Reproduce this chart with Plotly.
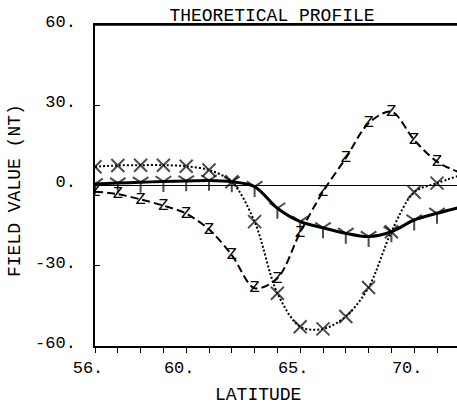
import plotly.graph_objects as go

# ---- data ----
LAT = [56, 57, 58, 59, 60, 61, 62, 63, 64, 65, 66, 67, 68, 69, 70, 71, 71.9]
SOLID_Y = [0.6, 0.9, 1.2, 1.5, 1.7, 1.9, 1.4, -0.4, -8.5, -13.5, -15.8, -17.9, -19.1, -17.3, -12.9, -10.4, -8.4]
DOTTED_X = [7.0, 7.5, 7.6, 7.6, 7.2, 5.8, 1.4, -13.5, -40.3, -52.8, -53.6, -49.0, -38.1, -17.3, -2.5, 0.9, 3.5]
DASHED_Z = [-2.3, -3.2, -5.2, -7.5, -10.5, -16.4, -26.0, -38.4, -34.7, -17.5, -2.3, 10.2, 23.3, 27.6, 17.0, 8.9, 5.2]

X_TICKS = list(range(56, 72))
X_LABELED = {56: "56.", 60: "60.", 65: "65.", 70: "70."}
Y_TICKS = [-60, -30, 0, 30, 60]
Y_LABELS = ["-60.", "-30.", "0.", "30.", "60."]

TITLE = "THEORETICAL PROFILE"
X_TITLE = "LATITUDE"
Y_TITLE = "FIELD VALUE (NT)"

FONT = "Liberation Mono, DejaVu Sans Mono, monospace"
n = len(LAT)
msize = [13] * (n - 1) + [0]

fig = go.Figure()

fig.add_trace(go.Scatter(
    x=LAT, y=DOTTED_X, mode="lines+markers",
    line=dict(color="black", width=2, dash="2px,2px", shape="spline", smoothing=0.9),
    marker=dict(symbol="x-thin-open", size=msize, color="black",
                line=dict(color="black", width=2)),
    showlegend=False, hoverinfo="skip"))

fig.add_trace(go.Scatter(
    x=LAT, y=DASHED_Z, mode="lines+text",
    text=["Z"] * (n - 1) + [""], textposition="middle center",
    textfont=dict(family=FONT, size=17, color="black"),
    line=dict(color="black", width=2, dash="8px,4px", shape="spline", smoothing=0.9),
    showlegend=False, hoverinfo="skip"))

fig.add_trace(go.Scatter(
    x=LAT, y=SOLID_Y, mode="lines+markers",
    line=dict(color="black", width=3, shape="spline", smoothing=0.9),
    marker=dict(symbol="y-down-open", size=msize, color="black",
                line=dict(color="black", width=2)),
    showlegend=False, hoverinfo="skip"))

XR = [56, 56 + 362 / 22.8]
YR = [-60, 60]

fig.update_layout(
    width=457, height=408,
    margin=dict(l=95, r=0, t=25, b=62),
    paper_bgcolor="white", plot_bgcolor="white",
    font=dict(family=FONT, size=17, color="black"),
    title=dict(text=TITLE, x=272 / 457, xanchor="center", xref="container",
               y=1 - 15 / 408, yanchor="middle", yref="container",
               font=dict(family=FONT, size=18, color="black")),
    xaxis=dict(range=XR, tickmode="array", tickvals=X_TICKS,
               ticktext=[X_LABELED.get(v, "") for v in X_TICKS],
               ticks="outside", ticklen=5, tickwidth=1.3, tickcolor="black",
               showline=True, linecolor="black", linewidth=1.5, mirror=True,
               showgrid=False, zeroline=False, ticklabelshift=-7,
               tickfont=dict(family=FONT, size=17)),
    xaxis2=dict(range=XR, overlaying="x", anchor="y", side="bottom",
                tickmode="array", tickvals=X_TICKS, showticklabels=False,
                ticks="inside", ticklen=5, tickwidth=1.3, tickcolor="black",
                showline=False, showgrid=False, zeroline=False),
    yaxis=dict(range=YR, tickmode="array", tickvals=Y_TICKS, ticktext=Y_LABELS,
               ticks="inside", ticklen=5, tickwidth=1.3, tickcolor="black",
               showline=True, linecolor="black", linewidth=1.5, mirror=False,
               showgrid=False, zeroline=True, zerolinecolor="black", zerolinewidth=1.3,
               ticklabelshift=-4, ticklabelstandoff=14,
               tickfont=dict(family=FONT, size=17)),
    shapes=[dict(type="line", xref="paper", yref="y", x0=0, x1=1, y0=YR[1], y1=YR[1],
                 line=dict(color="black", width=1.5), layer="above")],
    annotations=[
        dict(text=X_TITLE, xref="paper", yref="paper", x=(258 - 95) / 362, y=-49 / 321,
             xanchor="center", yanchor="middle", showarrow=False,
             font=dict(family=FONT, size=18, color="black")),
        dict(text=Y_TITLE, xref="paper", yref="paper", x=-80 / 362, y=(346 - 191) / 321,
             xanchor="center", yanchor="middle", showarrow=False, textangle=-90,
             font=dict(family=FONT, size=18, color="black")),
    ],
)

fig.write_html("out.html", config={"displayModeBar": False},
               post_script="document.body.style.margin='0';document.body.style.overflow='hidden';")
